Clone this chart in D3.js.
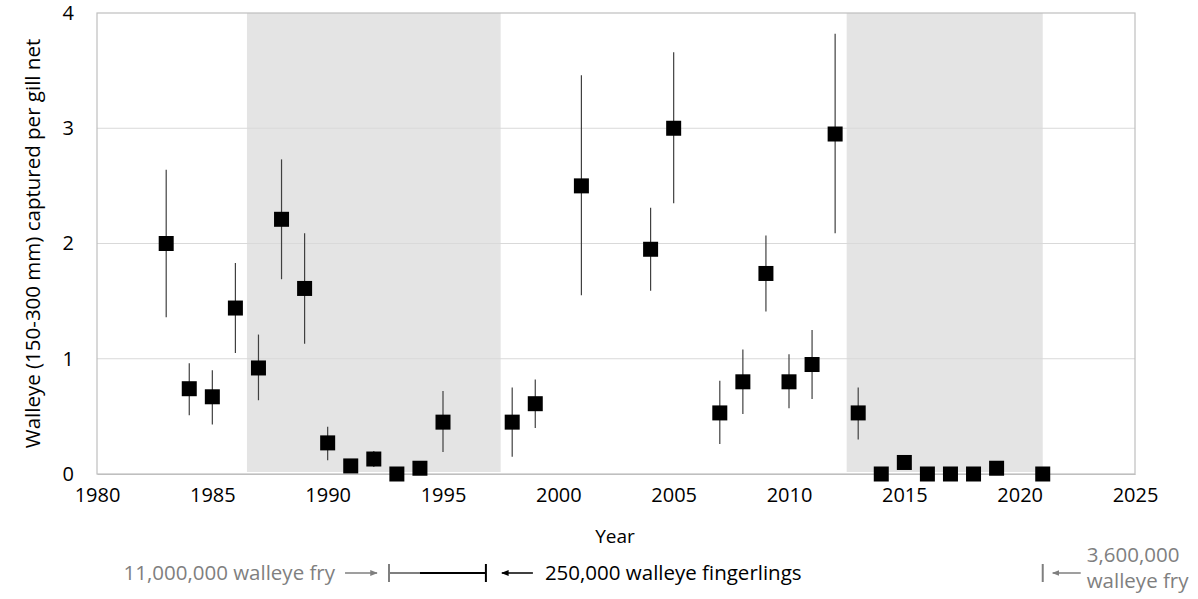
<!DOCTYPE html>
<html><head><meta charset="utf-8">
<script src="https://cdn.jsdelivr.net/npm/d3@7"></script>
<style>body{margin:0;background:#fff}svg{display:block}text{font-family:"Open Sans",Lato,sans-serif}</style>
</head><body>
<svg id="c" width="1198" height="599"></svg>
<script>
const years = [1983,1984,1985,1986,1987,1988,1989,1990,1991,1992,1993,1994,1995,1998,1999,2001,2004,2005,2007,2008,2009,2010,2011,2012,2013,2014,2015,2016,2017,2018,2019,2021];
const means = [2.00,0.74,0.67,1.44,0.92,2.21,1.61,0.27,0.07,0.13,0.00,0.05,0.45,0.45,0.61,2.50,1.95,3.00,0.53,0.80,1.74,0.80,0.95,2.95,0.53,0.00,0.10,0.00,0.00,0.00,0.05,0.00];
const lower = [1.36,0.51,0.43,1.05,0.64,1.69,1.13,0.12,0.07,0.06,0.00,0.05,0.19,0.15,0.40,1.55,1.59,2.35,0.26,0.52,1.41,0.57,0.65,2.09,0.30,0.00,0.05,0.00,0.00,0.00,0.05,0.00];
const upper = [2.64,0.96,0.90,1.83,1.21,2.73,2.09,0.41,0.07,0.20,0.00,0.05,0.72,0.75,0.82,3.46,2.31,3.66,0.81,1.08,2.07,1.04,1.25,3.82,0.75,0.00,0.16,0.00,0.00,0.00,0.05,0.00];
const shadeStart = [1986.5, 2012.5];
const shadeEnd = [1997.5, 2021];
const xTicks = [1980,1985,1990,1995,2000,2005,2010,2015,2020,2025];
const yTicks = [0,1,2,3,4];
const fryStart = 1992.66, fryEnd = 1994, fingEnd = 1996.86, fry2Year = 2021;

const svg = d3.select("#c");
const L = 97, R = 1135, T = 13, B = 474;
const x = d3.scaleLinear().domain([1980,2025]).range([L,R]);
const y = d3.scaleLinear().domain([0,4]).range([B,T]);

svg.append("rect").attr("x",L).attr("y",T).attr("width",R-L).attr("height",B-T).attr("fill","#fff");
// shading
svg.selectAll("rect.shade").data(shadeStart).enter().append("rect").attr("class","shade")
  .attr("x",(d)=>x(d)).attr("y",T).attr("width",(d,i)=>x(shadeEnd[i])-x(d)).attr("height",B-T-2)
  .attr("fill","#e4e4e4");
// grid
svg.selectAll("line.grid").data(yTicks.filter(d=>d>0&&d<4)).enter().append("line")
  .attr("x1",L).attr("x2",R).attr("y1",d=>y(d)).attr("y2",d=>y(d))
  .attr("stroke","#d9d9d9").attr("stroke-width",1);
// border
svg.append("rect").attr("x",L).attr("y",T).attr("width",R-L).attr("height",B-T)
  .attr("fill","none").attr("stroke","#bfbfbf").attr("stroke-width",1.2);

// axes
const xa = svg.append("g").attr("transform",`translate(0,${B})`)
  .call(d3.axisBottom(x).tickValues(xTicks).tickFormat(d3.format("d")).tickSize(0).tickPadding(14));
xa.select(".domain").attr("stroke","#bfbfbf");
xa.selectAll("text").attr("font-size",20).attr("fill","#000");
const ya = svg.append("g").attr("transform",`translate(${L},0)`)
  .call(d3.axisLeft(y).tickValues(yTicks).tickFormat(d3.format("d")).tickSize(0).tickPadding(23));
ya.select(".domain").remove();
ya.selectAll("text").attr("font-size",20).attr("fill","#000");

// error bars
svg.selectAll("line.err").data(years).enter().append("line")
  .attr("x1",d=>x(d)).attr("x2",d=>x(d))
  .attr("y1",(d,i)=>y(upper[i])).attr("y2",(d,i)=>y(lower[i]))
  .attr("stroke","#404040").attr("stroke-width",1.2);
// markers
const S = 15;
svg.selectAll("rect.pt").data(years).enter().append("rect")
  .attr("x",d=>x(d)-S/2).attr("y",(d,i)=>y(means[i])-S/2).attr("width",S).attr("height",S).attr("fill","#000");

// axis titles
svg.append("text").attr("x",(L+R)/2-1).attr("y",543).attr("text-anchor","middle").attr("font-size",19).text("Year");
svg.append("text").attr("transform",`translate(40,${(T+B)/2}) rotate(-90)`).attr("text-anchor","middle")
  .attr("font-size",20.5).text("Walleye (150-300 mm) captured per gill net");

// annotations
const defs = svg.append("defs");
function mk(id,col){
  defs.append("marker").attr("id",id).attr("viewBox","0 0 10 10").attr("refX",9).attr("refY",5)
   .attr("markerWidth",5).attr("markerHeight",5).attr("orient","auto")
   .append("path").attr("d","M0,1 L10,5 L0,9 z").attr("fill",col);
}
mk("ag","#7f7f7f"); mk("ab","#000");
const ay = 573;
const gray = "#7f7f7f";
const fs = 20.5;
const g = svg.append("g");
g.append("text").attr("x",x(fryStart)-54).attr("y",ay+7).attr("text-anchor","end").attr("font-size",fs).attr("fill",gray).text("11,000,000 walleye fry");
g.append("line").attr("x1",x(fryStart)-44).attr("x2",x(fryStart)-12).attr("y1",ay).attr("y2",ay).attr("stroke",gray).attr("stroke-width",1.5).attr("marker-end","url(#ag)");
g.append("line").attr("x1",x(fryStart)).attr("x2",x(fryStart)).attr("y1",ay-9).attr("y2",ay+9).attr("stroke",gray).attr("stroke-width",2);
g.append("line").attr("x1",x(fryStart)).attr("x2",x(fryEnd)).attr("y1",ay).attr("y2",ay).attr("stroke",gray).attr("stroke-width",2);
g.append("line").attr("x1",x(fryEnd)).attr("x2",x(fingEnd)).attr("y1",ay).attr("y2",ay).attr("stroke","#000").attr("stroke-width",2);
g.append("line").attr("x1",x(fingEnd)).attr("x2",x(fingEnd)).attr("y1",ay-9).attr("y2",ay+9).attr("stroke","#000").attr("stroke-width",2);
g.append("line").attr("x1",x(fingEnd)+47).attr("x2",x(fingEnd)+16).attr("y1",ay).attr("y2",ay).attr("stroke","#000").attr("stroke-width",1.5).attr("marker-end","url(#ab)");
g.append("text").attr("x",x(fingEnd)+59).attr("y",ay+7).attr("font-size",fs).attr("fill","#000").text("250,000 walleye fingerlings");
g.append("line").attr("x1",x(fry2Year)).attr("x2",x(fry2Year)).attr("y1",ay-9).attr("y2",ay+9).attr("stroke",gray).attr("stroke-width",2);
g.append("line").attr("x1",x(fry2Year)+38).attr("x2",x(fry2Year)+10).attr("y1",ay).attr("y2",ay).attr("stroke",gray).attr("stroke-width",1.5).attr("marker-end","url(#ag)");
const t2 = g.append("text").attr("font-size",fs).attr("fill",gray);
t2.append("tspan").attr("x",x(fry2Year)+44).attr("y",ay-11).text("3,600,000");
t2.append("tspan").attr("x",x(fry2Year)+44).attr("y",ay+15).text("walleye fry");
</script>
</body></html>
